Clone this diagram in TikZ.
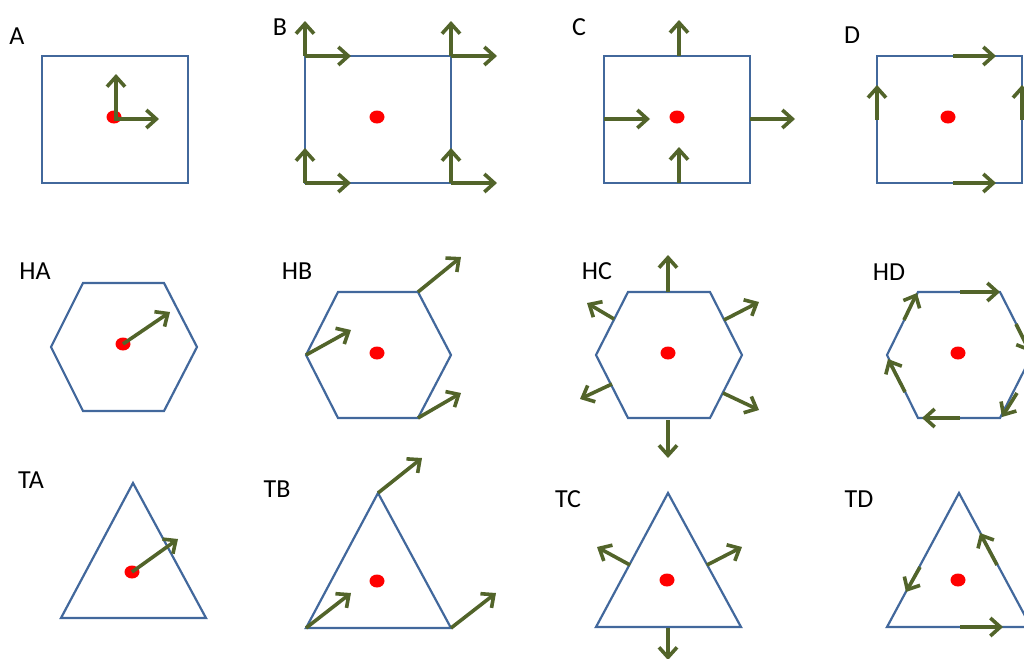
\documentclass[tikz,border=0pt]{standalone}
\usepackage{fontspec}
\setmainfont{Carlito}
\usepackage{tikz}
\usetikzlibrary{arrows.meta,shapes.geometric}
\definecolor{cellblue}{RGB}{66,104,156}
\definecolor{vecgreen}{RGB}{82,100,42}

\begin{document}
\begin{tikzpicture}[x=0.5pt,y=-0.5pt,
  cell/.style={draw=cellblue, line width=1.1pt},
  vec/.style={draw=vecgreen, line width=1.8pt, -{Straight Barb[length=5pt,width=9pt]}},
  centre/.style={ellipse, fill=red, minimum width=7.5pt, minimum height=6.5pt, inner sep=0pt},
  lab/.style={font=\fontsize{13}{15}\selectfont, inner sep=0pt}
]
\path[use as bounding box, clip] (0,0) rectangle (1024,659);

% labels
\node[lab] (lA) at (17,36) {A};
\node[lab] (lB) at (280,27) {B};
\node[lab] (lC) at (579,27) {C};
\node[lab] (lD) at (852,35) {D};
\node[lab] (lHA) at (35,271) {HA};
\node[lab] (lHB) at (297,271) {HB};
\node[lab] (lHC) at (597,271) {HC};
\node[lab] (lHD) at (889,272) {HD};
\node[lab] (lTA) at (31,480) {TA};
\node[lab] (lTB) at (277,489) {TB};
\node[lab] (lTC) at (568,499) {TC};
\node[lab] (lTD) at (859,499) {TD};

% squares
\draw[cell] (42,56) rectangle (188,183);
\draw[cell] (305,56) rectangle (451,183);
\draw[cell] (604,56) rectangle (750,183);
\draw[cell] (877,56) rectangle (1022,183);

% hexagons
\draw[cell] (51,347) -- (83,283) -- (164,283) -- (197,347) -- (164,411) -- (83,411) -- cycle;
\draw[cell] (306,355) -- (338,292) -- (418,292) -- (451,355) -- (418,418) -- (338,418) -- cycle;
\draw[cell] (596,355) -- (628,292) -- (710,292) -- (742,355) -- (710,418) -- (628,418) -- cycle;
\draw[cell] (887,355) -- (918,292) -- (1000,292) -- (1032,355) -- (1000,418) -- (918,418) -- cycle;

% triangles
\draw[cell] (133,483) -- (206,618) -- (61,618) -- cycle;
\draw[cell] (378,493) -- (451,628) -- (306,628) -- cycle;
\draw[cell] (668,493) -- (741,627) -- (596,627) -- cycle;
\draw[cell] (959,493) -- (1031,627) -- (887,627) -- cycle;

% centre points
\node[centre] (cA) at (114,117) {};
\node[centre] (cB) at (377,117) {};
\node[centre] (cC) at (677,117) {};
\node[centre] (cD) at (948,117) {};
\node[centre] (cHA) at (123,344) {};
\node[centre] (cHB) at (377,353) {};
\node[centre] (cHC) at (668,353) {};
\node[centre] (cHD) at (958,353) {};
\node[centre] (cTA) at (132,572) {};
\node[centre] (cTB) at (377,581) {};
\node[centre] (cTC) at (667,580) {};
\node[centre] (cTD) at (958,580) {};

% A
\draw[vec] ([xshift=1pt]cA.center) -- ++(0,-43);
\draw[vec] ([yshift=-1pt]cA.center) -- ++(45,0);
% B
\draw[vec] (305,56) -- ++(0,-35);
\draw[vec] (305,56) -- ++(46,0);
\draw[vec] (451,56) -- ++(0,-35);
\draw[vec] (451,56) -- ++(46,0);
\draw[vec] (305,183) -- ++(0,-35);
\draw[vec] (305,183) -- ++(46,0);
\draw[vec] (451,183) -- ++(0,-35);
\draw[vec] (451,183) -- ++(46,0);
% C
\draw[vec] (679,56) -- ++(0,-36);
\draw[vec] (604,119) -- ++(46,0);
\draw[vec] (750,119) -- ++(45,0);
\draw[vec] (679,183) -- ++(0,-36);
% D
\draw[vec] (953,56) -- ++(43,0);
\draw[vec] (953,183) -- ++(43,0);
\draw[vec] (877,120) -- ++(0,-35);
\draw[vec] (1022,120) -- ++(0,-35);

% HA
\draw[vec] (cHA.center) -- ++(47,-32);
% HB
\draw[vec] (306,355) -- ++(45,-25);
\draw[vec] (418,292) -- ++(43,-35);
\draw[vec] (418,418) -- ++(43,-25);
% HC
\draw[vec] (668,292) -- ++(0,-37);
\draw[vec] (668,420) -- ++(0,38);
\draw[vec] (614,319) -- ++(-27,-16);
\draw[vec] (724,320) -- ++(35,-18);
\draw[vec] (612,384) -- ++(-32,15);
\draw[vec] (723,393) -- ++(36,17);
% HD
\draw[vec] (960,292) -- ++(40,0);
\draw[vec] (1016,324) -- ++(14,28);
\draw[vec] (1017,393) -- ++(-15,24);
\draw[vec] (960,418) -- ++(-38,0);
\draw[vec] (905,392) -- ++(-17,-33);
\draw[vec] (904,320) -- ++(13,-27);

% TA
\draw[vec] (cTA.center) -- ++(46,-33);
% TB
\draw[vec] (378,493) -- ++(44,-35);
\draw[vec] (306,628) -- ++(45,-35);
\draw[vec] (451,628) -- ++(45,-35);
% TC
\draw[vec] (630,565) -- ++(-33,-18);
\draw[vec] (707,565) -- ++(35,-18);
\draw[vec] (668,628) -- ++(0,32);
% TD
\draw[vec] (997,565) -- ++(-17,-32);
\draw[vec] (920,567) -- ++(-14,25);
\draw[vec] (960,627) -- ++(43,0);
\end{tikzpicture}
\end{document}
